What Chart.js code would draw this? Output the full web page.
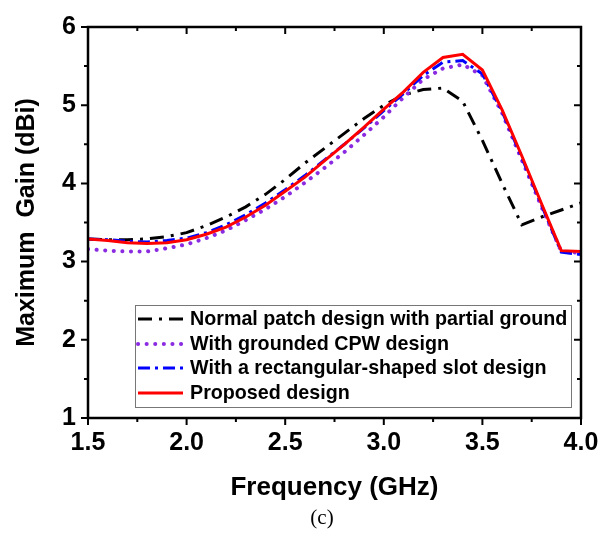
<!DOCTYPE html>
<html>
<head>
<meta charset="utf-8">
<script src="https://cdn.jsdelivr.net/npm/chart.js@4"></script>
<style>
  html, body { margin: 0; padding: 0; background: #fff; }
  canvas { display: block; }
</style>
</head>
<body>
<canvas id="gain-chart" width="612" height="536"></canvas>
<script>
// ── Data ─────────────────────────────────────────────────────────────────────
const freqGHz = [1.5, 1.6, 1.7, 1.8, 1.9, 2.0, 2.1, 2.2, 2.3, 2.4, 2.5, 2.6, 2.7,
                 2.8, 2.9, 3.0, 3.1, 3.2, 3.3, 3.4, 3.5, 3.6, 3.7, 3.8, 3.9, 4.0];

const gainNormalPatch = [3.29, 3.28, 3.28, 3.29, 3.32, 3.37, 3.46, 3.57, 3.70, 3.86, 4.05, 4.26, 4.45,
                         4.64, 4.83, 5.00, 5.13, 5.20, 5.22, 5.05, 4.55, 4.00, 3.47, 3.57, 3.66, 3.75];
const gainGroundedCpw = [3.16, 3.14, 3.13, 3.13, 3.17, 3.22, 3.30, 3.40, 3.53, 3.67, 3.83, 4.01, 4.20,
                         4.40, 4.62, 4.85, 5.10, 5.33, 5.47, 5.52, 5.38, 4.90, 4.30, 3.70, 3.13, 3.11];
const gainRectSlot     = [3.29, 3.28, 3.26, 3.25, 3.27, 3.30, 3.37, 3.47, 3.60, 3.75, 3.92, 4.10, 4.30,
                         4.50, 4.71, 4.93, 5.15, 5.38, 5.55, 5.57, 5.40, 4.92, 4.33, 3.72, 3.12, 3.09];
const gainProposed     = [3.29, 3.27, 3.24, 3.23, 3.24, 3.28, 3.35, 3.44, 3.57, 3.72, 3.90, 4.08, 4.29,
                         4.50, 4.72, 4.95, 5.17, 5.42, 5.61, 5.65, 5.45, 4.94, 4.35, 3.74, 3.14, 3.13];

const seriesLabels = [
    'Normal patch design with partial ground',
    'With grounded CPW design',
    'With a rectangular-shaped slot design',
    'Proposed design',
];

const xTicks = [1.5, 2.0, 2.5, 3.0, 3.5, 4.0];
const yTicks = [1, 2, 3, 4, 5, 6];

// ── Helpers ──────────────────────────────────────────────────────────────────
const FONT = '"Liberation Sans", Arial, sans-serif';

function toPoints(values) {
    return freqGHz.map((f, i) => ({ x: f, y: values[i] }));
}

// frame, major + minor ticks (Origin style: left/bottom out, top/right in)
const frameTicksPlugin = {
    id: 'frameTicks',
    afterDraw(chart) {
        const { ctx, chartArea: a, scales: { x, y } } = chart;
        ctx.save();
        ctx.strokeStyle = '#000';
        ctx.lineWidth = 2.5;
        ctx.strokeRect(a.left, a.top, a.right - a.left, a.bottom - a.top);

        ctx.lineWidth = 2;
        ctx.beginPath();
        const major = 7, minor = 4;
        for (let v = 1.5; v <= 4.0001; v += 0.25) {
            const px = x.getPixelForValue(v);
            const len = Math.abs((v * 2) - Math.round(v * 2)) < 1e-6 ? major : minor;
            ctx.moveTo(px, a.bottom); ctx.lineTo(px, a.bottom + len);
            ctx.moveTo(px, a.top);    ctx.lineTo(px, a.top + len);
        }
        for (let v = 1; v <= 6.0001; v += 0.5) {
            const py = y.getPixelForValue(v);
            const len = Math.abs(v - Math.round(v)) < 1e-6 ? major : minor;
            ctx.moveTo(a.left, py);  ctx.lineTo(a.left - len, py);
            ctx.moveTo(a.right, py); ctx.lineTo(a.right - len, py);
        }
        ctx.stroke();

        // figure caption
        ctx.fillStyle = '#000';
        ctx.font = '21px "Liberation Serif", "Times New Roman", serif';
        ctx.textAlign = 'center';
        ctx.textBaseline = 'middle';
        ctx.fillText('(c)', 322, 518);
        ctx.restore();
    },
};

// boxed legend inside the plot, lower right
const boxLegendPlugin = {
    id: 'boxLegend',
    afterDraw(chart) {
        const { ctx } = chart;
        const box = { left: 135, top: 305, right: 571, bottom: 407 };
        const rowY = [319, 344, 368, 393];
        ctx.save();
        ctx.fillStyle = '#fff';
        ctx.fillRect(box.left, box.top, box.right - box.left, box.bottom - box.top);
        ctx.strokeStyle = '#777';
        ctx.lineWidth = 1;
        ctx.strokeRect(box.left + 0.5, box.top + 0.5, box.right - box.left, box.bottom - box.top);

        chart.data.datasets.forEach((ds, i) => {
            const yy = rowY[i];
            ctx.strokeStyle = ds.borderColor;
            ctx.lineWidth = ds.borderWidth;
            ctx.lineCap = ds.borderCapStyle || 'butt';
            ctx.setLineDash(ds.borderDash || []);
            ctx.beginPath();
            ctx.moveTo(138, yy);
            ctx.lineTo(183, yy);
            ctx.stroke();
            ctx.setLineDash([]);

            ctx.fillStyle = '#000';
            ctx.font = 'bold 19.7px ' + FONT;
            ctx.textAlign = 'left';
            ctx.textBaseline = 'middle';
            ctx.fillText(ds.label, 190, yy + 1);
        });
        ctx.restore();
    },
};

// ── Chart ────────────────────────────────────────────────────────────────────
const chart = new Chart(document.getElementById('gain-chart'), {
    type: 'line',
    data: {
        datasets: [
            {
                label: seriesLabels[0],
                data: toPoints(gainNormalPatch),
                borderColor: '#000000',
                borderWidth: 3,
                borderDash: [14, 7, 3, 7],
                borderCapStyle: 'butt',
                order: 3,
            },
            {
                label: seriesLabels[1],
                data: toPoints(gainGroundedCpw),
                borderColor: '#8A2BE2',
                borderWidth: 4,
                borderDash: [0.1, 8.5],
                borderCapStyle: 'round',
                order: 2,
            },
            {
                label: seriesLabels[2],
                data: toPoints(gainRectSlot),
                borderColor: '#0000FF',
                borderWidth: 3,
                borderDash: [12, 5, 3, 5],
                borderCapStyle: 'butt',
                order: 1,
            },
            {
                label: seriesLabels[3],
                data: toPoints(gainProposed),
                borderColor: '#FF0000',
                borderWidth: 3,
                borderDash: [],
                order: 0,
            },
        ],
    },
    options: {
        responsive: false,
        animation: false,
        devicePixelRatio: 1,
        layout: { padding: { left: 0, top: 21, right: 31, bottom: 0 } },
        elements: {
            point: { radius: 0 },
            line:  { tension: 0, fill: false },
        },
        plugins: {
            legend:  { display: false },
            tooltip: { enabled: false },
        },
        scales: {
            x: {
                type: 'linear',
                min: 1.5,
                max: 4.0,
                afterFit(scale) { scale.height = 118; },
                afterBuildTicks(scale) { scale.ticks = xTicks.map(v => ({ value: v })); },
                grid:   { display: false, drawTicks: false },
                border: { display: false },
                ticks: {
                    padding: 10,
                    color: '#000',
                    font: { family: FONT, size: 25, weight: 'bold' },
                    callback: v => v.toFixed(1),
                    maxRotation: 0,
                },
                title: {
                    display: true,
                    text: 'Frequency (GHz)',
                    color: '#000',
                    font: { family: FONT, size: 26, weight: 'bold' },
                    padding: { top: 0, bottom: 33 },
                },
            },
            y: {
                type: 'linear',
                min: 1,
                max: 6,
                afterFit(scale) { scale.width = 88; },
                afterBuildTicks(scale) { scale.ticks = yTicks.map(v => ({ value: v })); },
                grid:   { display: false, drawTicks: false },
                border: { display: false },
                ticks: {
                    padding: 12,
                    color: '#000',
                    font: { family: FONT, size: 25, weight: 'bold' },
                    callback: v => String(v),
                },
                title: {
                    display: true,
                    text: 'Maximum  Gain (dBi)',
                    color: '#000',
                    font: { family: FONT, size: 25, weight: 'bold' },
                    padding: { top: 12, bottom: 0 },
                },
            },
        },
    },
    plugins: [frameTicksPlugin, boxLegendPlugin],
});
</script>
</body>
</html>
